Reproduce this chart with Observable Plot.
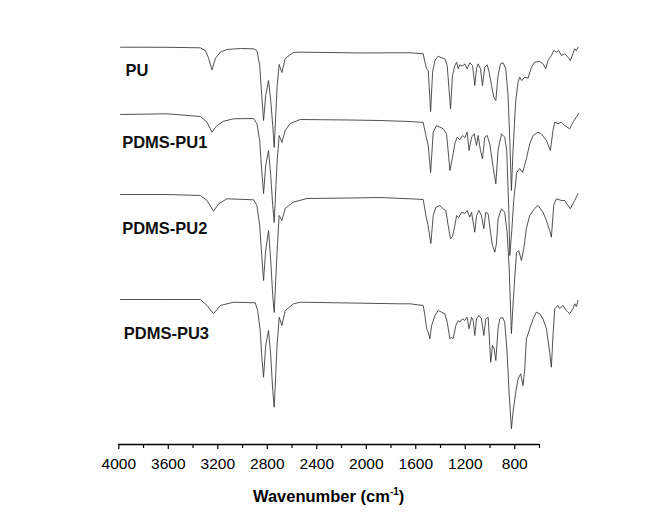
<!DOCTYPE html>
<html><head><meta charset="utf-8">
<script src="https://cdn.jsdelivr.net/npm/d3@7"></script>
<script src="https://cdn.jsdelivr.net/npm/@observablehq/plot@0.6"></script>
<style>body{margin:0;background:#fff}</style>
</head><body><div id="chart"></div>
<script>
// FTIR spectra: [wavenumber (cm-1), relative transmittance (a.u.)]
const seriesNames = ["PU", "PDMS-PU1", "PDMS-PU2", "PDMS-PU3"];
const offsets = [297, 230, 150, 45];

const pu = [[3986,100.3],[3610,100.2],[3341,99.7],[3301,97],[3276,90],[3247,77.7],[3220,89],[3180,95.3],[3126,98],[3018,99],[2911,98.7],[2884,97],[2861,82],[2845,52],[2830,27],[2813,52],[2790,67],[2772,47],[2756,22],[2744,0],[2732,32],[2720,62],[2704,83],[2682,75],[2655,89],[2591,95],[2534,95.3],[2292,95],[2050,94.5],[1808,94.7],[1647,94.7],[1540,93.7],[1526,85.3],[1512,78.7],[1499,77],[1480,36],[1464,75.3],[1445,87],[1419,91.3],[1391,89.7],[1365,88.7],[1346,82],[1319,38.7],[1303,72],[1284,82],[1270,85.3],[1257,78.7],[1244,82.7],[1222,81.3],[1203,83.7],[1185,78.7],[1163,84.7],[1141,82],[1123,62],[1109,78.7],[1096,83.7],[1077,78.7],[1061,62],[1042,80.3],[1023,82.7],[1007,75.3],[988,62],[969,50.3],[953,47],[935,72],[915,83.7],[894,84.7],[873,78.7],[854,52],[840,7],[827,-43],[814,-3],[792,47],[773,65.3],[760,70.3],[744,67],[719,70.3],[693,69.3],[665,80.3],[639,85.3],[598,86],[572,83.7],[550,78.7],[531,87],[504,92],[485,97],[464,95.3],[445,97],[423,92],[397,93.7],[370,90.3],[351,87],[335,92],[316,98.7],[302,97],[289,100.3]];

const pu1 = [[3986,100],[3610,100.7],[3341,98],[3287,92.3],[3247,82.3],[3206,89],[3153,93.3],[3072,95.7],[2911,96],[2884,91],[2861,74],[2845,44],[2830,21],[2813,49],[2790,64],[2772,39],[2756,9],[2744,-8],[2732,24],[2720,54],[2704,79],[2682,72],[2655,84],[2615,91],[2534,95],[2131,94.5],[1889,94],[1647,93],[1540,92],[1518,79],[1499,69],[1480,42],[1459,82.3],[1432,89],[1405,87.3],[1378,85.7],[1351,80.7],[1324,44],[1303,57.3],[1284,70.7],[1265,77.3],[1244,74.7],[1222,79],[1203,77],[1185,82.3],[1169,64],[1149,77.3],[1128,80.7],[1109,69],[1096,79],[1077,64],[1061,55.7],[1042,77.3],[1023,79],[1002,70.7],[975,47.3],[953,30.7],[935,64],[907,80.7],[881,77.3],[865,64],[848,4],[840,-41],[824,-16],[808,14],[784,42],[760,46],[736,42],[703,57.3],[679,70.7],[652,79],[612,82.3],[585,80.7],[544,74],[512,64],[491,84],[477,92.3],[451,90.7],[423,92.3],[397,89],[356,85.7],[330,92.3],[302,97.3],[284,100.7]];

const pu2 = [[3986,100],[3610,100],[3341,99],[3287,94],[3234,83.3],[3193,90.7],[3126,95.7],[2911,94.7],[2884,89],[2861,69],[2845,39],[2830,14],[2813,44],[2790,64],[2772,34],[2756,-1],[2744,-18],[2732,14],[2720,44],[2704,79],[2682,74],[2655,86],[2591,92.3],[2480,96],[2131,96.5],[1889,97],[1647,95.7],[1540,95],[1518,79],[1502,70],[1478,51],[1459,79],[1437,87.3],[1405,89],[1378,85.7],[1357,84],[1338,69],[1319,55.7],[1303,58],[1284,69],[1270,79],[1252,77],[1230,82.3],[1203,81],[1185,84],[1163,77.3],[1149,82.3],[1123,62.3],[1109,79],[1090,84],[1069,79],[1050,65.7],[1034,82.3],[1015,80.7],[996,62.3],[980,49],[961,42.3],[948,51],[935,75.7],[907,85.7],[881,82.3],[862,62.3],[846,29],[827,-39],[812,-6],[786,42],[768,44],[746,34],[727,46],[706,66],[679,79],[639,86],[612,89],[572,82.3],[544,74],[518,64],[504,57.3],[485,89],[464,95.7],[423,94],[397,94],[351,85.7],[316,94],[289,100.7]];

const pu3 = [[3986,100],[3610,100],[3341,100],[3287,94],[3234,85.7],[3180,94],[3072,97.3],[2897,96.7],[2878,89],[2857,69],[2845,44],[2830,22.3],[2813,54],[2790,69],[2772,44],[2756,9],[2744,-7.7],[2732,24],[2722,52.3],[2704,82.3],[2682,74],[2655,89],[2588,95.7],[2534,97.3],[2131,96.5],[1728,95.7],[1647,95.7],[1540,94],[1526,84],[1512,70.7],[1499,67.3],[1486,60.7],[1472,74],[1445,84],[1419,89],[1391,87.3],[1365,85.7],[1346,77.3],[1324,60.7],[1311,62.3],[1298,60.7],[1276,74],[1257,79],[1244,77.3],[1222,80.7],[1203,79],[1185,82.3],[1169,70.7],[1149,82.3],[1136,79],[1123,64],[1109,80.7],[1088,84],[1069,80.7],[1050,64],[1034,80.7],[1015,82.3],[1002,54],[994,37.3],[980,54],[967,51],[953,39],[935,70.7],[921,80.7],[899,82.3],[881,77.3],[862,47.3],[846,7.3],[827,-29.3],[814,-12.7],[792,7.3],[773,20.7],[752,25.7],[733,14],[719,30.7],[706,60.7],[679,70.7],[652,80.7],[625,87.3],[598,85.7],[572,80.7],[544,70.7],[518,47.3],[504,32.3],[491,64],[477,90.7],[451,94],[437,91],[410,94],[383,89],[356,85.7],[330,90.7],[316,95.7],[302,93],[289,99]];

const spectra = [pu, pu1, pu2, pu3];

// series label anchors (wavenumber, plotted value)
const labelWn = [3946, 3973, 3973, 3960];
const labelV = [369, 297, 211, 106];

const majorTicks = [4000, 3600, 3200, 2800, 2400, 2000, 1600, 1200, 800];
const minorTicks = [3800, 3400, 3000, 2600, 2200, 1800, 1400, 1000, 600];

const rows = [];
spectra.forEach((s, i) => s.forEach(([wn, t]) => rows.push({series: seriesNames[i], wn, v: t + offsets[i]})));
const labels = seriesNames.map((name, i) => ({name, wn: labelWn[i], v: labelV[i]}));

const plot = Plot.plot({
  width: 672, height: 518,
  marginLeft: 118.3, marginRight: 133, marginTop: 4, marginBottom: 74,
  x: {domain: [4000, 600], axis: null},
  y: {domain: [0, 440], axis: null},
  style: {fontFamily: "'Liberation Sans', Arial, sans-serif", fontSize: "15.5px", color: "#000", background: "#fff", overflow: "visible"},
  marks: [
    Plot.line(rows, {x: "wn", y: "v", z: "series", stroke: "#333", strokeWidth: 0.85}),
    Plot.text(labels, {x: "wn", y: "v", text: "name", textAnchor: "start", lineAnchor: "bottom", fontWeight: "bold", fontSize: 16.5, fill: "#111"}),
    Plot.ruleY([0], {stroke: "#000", strokeWidth: 1.5}),
    Plot.axisX({ticks: majorTicks, anchor: "bottom", label: null, tickSize: 5, tickPadding: 8, tickFormat: d => String(d), strokeWidth: 1.2, fontSize: 15.5}),
    Plot.axisX({ticks: minorTicks, anchor: "bottom", label: null, tickSize: 4, tickFormat: () => "", strokeWidth: 1.2})
  ]
});

const svg = d3.select(plot);
const xs = plot.scale("x"), ys = plot.scale("y");
const title = svg.append("text")
  .attr("x", xs.apply((4000 + 600) / 2))
  .attr("y", ys.apply(0) + 58)
  .attr("text-anchor", "middle")
  .attr("font-weight", "bold")
  .attr("font-size", 16.5)
  .attr("fill", "#000");
title.append("tspan").text("Wavenumber (cm");
title.append("tspan").attr("font-size", 10).attr("dy", -7).text("-1");
title.append("tspan").attr("dy", 7).text(")");

document.getElementById("chart").appendChild(plot);
</script>
</body></html>
